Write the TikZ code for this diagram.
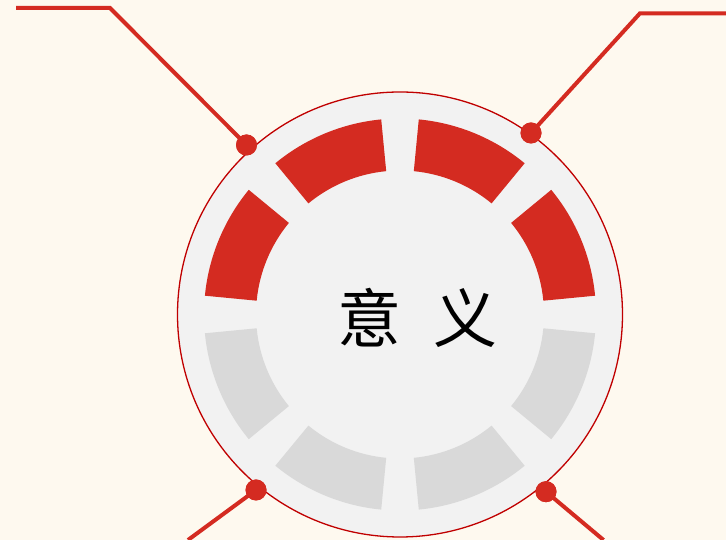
\documentclass[tikz,border=0pt]{standalone}
\usepackage{fontspec}
\newfontfamily\cjk{Noto Sans CJK SC}
\definecolor{bgcream}{HTML}{FEF9EF}
\definecolor{segred}{HTML}{D42B21}
\definecolor{seggray}{HTML}{D9D9D9}
\definecolor{discfill}{HTML}{F2F2F2}
\definecolor{discline}{HTML}{C00000}
\tikzset{
  leader/.style={draw=segred, line width=4pt, line join=miter},
  dot/.style={circle, fill=segred, minimum size=21pt, inner sep=0pt},
}
\newcommand{\ringseg}[3]{% start angle, end angle, colour
  \fill[#3, shift={(400,225.5)}] (#1:196) arc[start angle=#1, end angle=#2, radius=196]
     -- (#2:144) arc[start angle=#2, end angle=#1, radius=144] -- cycle;}
\begin{document}
\begin{tikzpicture}[x=1pt,y=1pt]
\fill[bgcream] (0,0) rectangle (726,540);
\useasboundingbox (0,0) rectangle (726,540);
% disc
\node[circle, fill=discfill, draw=discline, line width=1.3pt, minimum size=445pt, inner sep=0pt] (disc) at (400,225.5) {};
% segments
\foreach \k in {0,1,2,3} {
  \pgfmathsetmacro{\a}{45*\k+5.5}
  \pgfmathsetmacro{\b}{45*\k+39.5}
  \ringseg{\a}{\b}{segred}
}
\foreach \k in {4,5,6,7} {
  \pgfmathsetmacro{\a}{45*\k+5.5}
  \pgfmathsetmacro{\b}{45*\k+39.5}
  \ringseg{\a}{\b}{seggray}
}
% leader lines
\coordinate (tlA) at (16,532);
\coordinate (tlB) at (110,532);
\coordinate (trB) at (640,526.7);
\coordinate (trA) at (726,526.7);
\coordinate (blA) at (188,0);
\coordinate (brA) at (603.5,0);
\node[dot] (dTL) at (246.5,395) {};
\node[dot] (dTR) at (531,407) {};
\node[dot] (dBL) at (256,50) {};
\node[dot] (dBR) at (546,48.3) {};
\draw[leader] (tlA) -- (tlB) -- (dTL.center);
\draw[leader] (trA) -- (trB) -- (dTR.center);
\draw[leader] (blA) -- (dBL.center);
\draw[leader] (brA) -- (dBR.center);
\node[dot] at (dTL) {};
\node[dot] at (dTR) {};
\node[dot] at (dBL) {};
\node[dot] at (dBR) {};
% title
\node[anchor=base, inner sep=0pt, font=\cjk\fontsize{64}{64}\selectfont] (title) at (417,197) {意\hspace{32pt}义};
\end{tikzpicture}
\end{document}
